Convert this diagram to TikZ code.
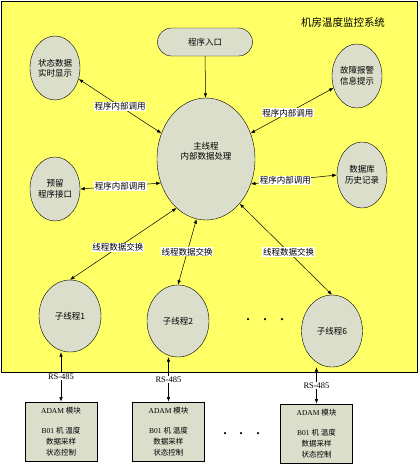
\documentclass[tikz,border=0pt]{standalone}
\usepackage{fontspec}
\setmainfont{Liberation Serif}
\newfontfamily\cjk{Noto Sans CJK SC}
\definecolor{bgyellow}{RGB}{255,255,102}
\definecolor{shapegrey}{RGB}{220,222,204}
\usetikzlibrary{arrows.meta,shapes.geometric}

\begin{document}
\begin{tikzpicture}[x=1pt,y=-1pt,
  proc/.style={ellipse,draw,fill=shapegrey,inner sep=0pt,align=center,
    font=\cjk\fontsize{8.5}{10.5}\selectfont},
  adambox/.style={draw,line width=0.9pt,fill=shapegrey,minimum width=72pt,
    minimum height=59pt,inner sep=2pt,align=center,
    font=\fontsize{7.5}{11}\selectfont},
  calllabel/.style={fill=white,inner sep=0.6pt,font=\cjk\fontsize{8.5}{9}\selectfont},
  rslabel/.style={fill=white,inner sep=0.6pt,font=\fontsize{8.5}{9}\selectfont},
  link/.style={{Latex[length=4.5pt,width=3.5pt]}-{Latex[length=4.5pt,width=3.5pt]},line width=0.5pt},
  dots/.style={circle,fill,inner sep=0pt,minimum size=2.5pt}
]
  \useasboundingbox (0,0) rectangle (419,467);

  % System frame
  \node[draw,fill=bgyellow,minimum width=416pt,minimum height=371pt,inner sep=0pt]
    (frame) at (209,186.5) {};
  \node[font=\cjk\fontsize{10.5}{12}\selectfont] (title) at (343,22) {机房温度监控系统};

  % Entry and main thread
  \node[draw,fill=shapegrey,rounded corners=14pt,minimum width=95pt,minimum height=28pt,
    inner sep=0pt,font=\cjk\fontsize{8.5}{10}\selectfont] (entry) at (205,42) {程序入口};
  \node[proc,minimum width=98pt,minimum height=122pt] (main) at (206,159) {主线程\\内部数据处理\\[6pt]};

  % Modules called by the main thread
  \node[proc,minimum width=50pt,minimum height=64pt] (show) at (55,68) {状态数据\\实时显示};
  \node[proc,minimum width=50pt,minimum height=64pt] (alarm) at (357,76) {故障报警\\信息提示};
  \node[proc,minimum width=50pt,minimum height=64pt] (reserve) at (55,189) {预留\\程序接口};
  \node[proc,minimum width=50pt,minimum height=66pt] (dbase) at (362,175) {数据库\\历史记录};

  % Worker threads
  \node[proc,minimum width=62pt,minimum height=72pt] (sub1) at (70,316) {子线程1};
  \node[proc,minimum width=62pt,minimum height=72pt] (sub2) at (178,321) {子线程2};
  \node[proc,minimum width=61pt,minimum height=72pt] (sub6) at (332,331) {子线程6};
  \node[dots] (td1) at (248,319) {};
  \node[dots] (td2) at (265,319) {};
  \node[dots] (td3) at (282,319) {};

  % ADAM modules
  \node[adambox] (adam1) at (61,431.5) {ADAM {\cjk 模块}\\[9pt]B01 {\cjk 机 温度}\\{\cjk 数据采样}\\{\cjk 状态控制}};
  \node[adambox] (adam2) at (168.5,431.5) {ADAM {\cjk 模块}\\[9pt]B01 {\cjk 机 温度}\\{\cjk 数据采样}\\{\cjk 状态控制}};
  \node[adambox] (adam6) at (316.5,433.5) {ADAM {\cjk 模块}\\[9pt]B01 {\cjk 机 温度}\\{\cjk 数据采样}\\{\cjk 状态控制}};
  \node[dots] (bd1) at (225,433) {};
  \node[dots] (bd2) at (241,433) {};
  \node[dots] (bd3) at (258,433) {};

  % Connections
  \draw[-{Latex[length=4.5pt,width=3.5pt]},line width=0.5pt] (entry) -- (main);
  \draw[link] (show.335) -- node[calllabel] {程序内部调用} (main.150);
  \draw[link] (alarm.207) -- node[calllabel,pos=0.55] {程序内部调用} (main.30);
  \draw[link] (reserve.east) -- node[calllabel] {程序内部调用} (main.208);
  \draw[link] (dbase.west) -- node[calllabel,pos=0.6] {程序内部调用} (main.331);
  \draw[link] (sub1.north) -- node[calllabel,pos=0.45] {线程数据交换} (main.239);
  \draw[link] (sub2.north) -- node[calllabel,pos=0.5] {线程数据交换} (main.261);
  \draw[link] (sub6.north) -- node[calllabel,pos=0.47] {线程数据交换} (main.307);

  \draw[link] (adam1.north) -- node[rslabel,pos=0.5] {RS-485} (adam1.north |- sub1.south);
  \draw[link] (adam2.north) -- node[rslabel,pos=0.5] {RS-485} (adam2.north |- sub2.south);
  \draw[link] (adam6.north) -- node[rslabel,pos=0.5] {RS-485} (adam6.north |- sub6.south);
\end{tikzpicture}
\end{document}
